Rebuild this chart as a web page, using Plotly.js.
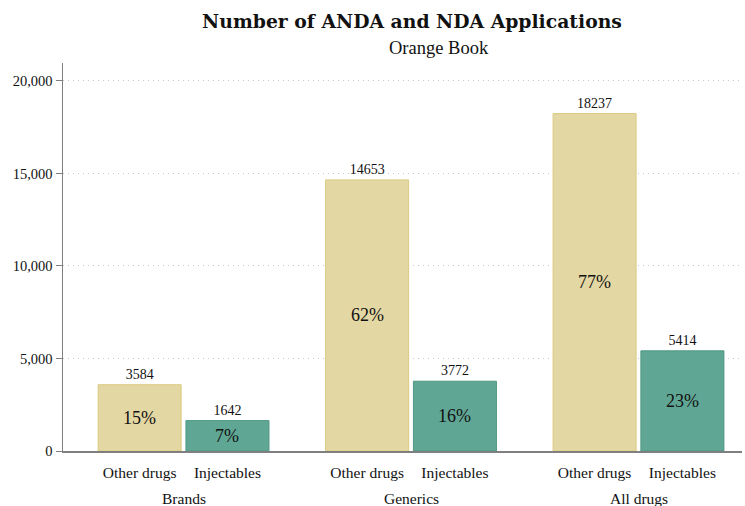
<!DOCTYPE html>
<html>
<head>
<meta charset="utf-8">
<script src="https://cdn.plot.ly/plotly-3.0.1.min.js"></script>
<style>html,body{margin:0;padding:0;background:#fff;}#chart{width:745px;height:506px;}</style>
</head>
<body>
<div id="chart"></div>
<script>
const groups = ["Brands", "Generics", "All drugs"];
const subLabels = ["Other drugs", "Injectables"];
const otherDrugs = [3584, 14653, 18237];
const injectables = [1642, 3772, 5414];
const otherPct = ["15%", "62%", "77%"];
const injectPct = ["7%", "16%", "23%"];
const yTicks = [0, 5000, 10000, 15000, 20000];

const FONT = "Liberation Serif, Times New Roman, serif";
const TFONT = "DejaVu Serif, serif";
const off = 0.193;
const bw = 0.365;
const gx = groups.map((g, i) => i);
const xOther = gx.map(v => v - off);
const xInj = gx.map(v => v + off);

const traces = [
  {
    type: "bar", x: xOther, y: otherDrugs, width: bw,
    marker: {color: "#e3d7a3", line: {color: "#dccb82", width: 1}},
    text: otherDrugs.map(String), textposition: "outside", cliponaxis: false,
    textfont: {family: FONT, size: 14, color: "#111"}, hoverinfo: "skip", showlegend: false
  },
  {
    type: "bar", x: xInj, y: injectables, width: bw,
    marker: {color: "#60a694", line: {color: "#4e9882", width: 1}},
    text: injectables.map(String), textposition: "outside", cliponaxis: false,
    textfont: {family: FONT, size: 14, color: "#111"}, hoverinfo: "skip", showlegend: false
  }
];

const annotations = [];
groups.forEach((g, i) => {
  annotations.push({x: xOther[i], y: otherDrugs[i] / 2, xref: "x", yref: "y", text: otherPct[i],
    showarrow: false, font: {family: FONT, size: 18, color: "#111"}});
  annotations.push({x: xInj[i], y: injectables[i] / 2, xref: "x", yref: "y", text: injectPct[i],
    showarrow: false, font: {family: FONT, size: 18, color: "#111"}});
  annotations.push({x: gx[i], y: 0, xref: "x", yref: "paper", yshift: -47, text: g,
    showarrow: false, yanchor: "middle", font: {family: FONT, size: 15.5, color: "#111"}});
});
annotations.push({x: 412 / 745, y: 1, xref: "paper", yref: "paper", yanchor: "middle", yshift: 15,
  text: "Orange Book", showarrow: false, font: {family: FONT, size: 18.5, color: "#111"}});

const tickvals = [], ticktext = [];
gx.forEach((v, i) => { tickvals.push(xOther[i], xInj[i]); ticktext.push(subLabels[0], subLabels[1]); });

const layout = {
  width: 745, height: 506,
  margin: {l: 63, r: 3, t: 63, b: 55},
  paper_bgcolor: "#fff", plot_bgcolor: "#fff",
  separators: ".,",
  font: {family: FONT, size: 14.5, color: "#111"},
  title: {text: "<b>Number of ANDA and NDA Applications</b>", x: 412 / 745, xanchor: "center",
    y: 1 - 21 / 506, yanchor: "middle", font: {family: TFONT, size: 18.8, color: "#111"}},
  bargap: 0,
  xaxis: {
    range: [-0.53, 2.455], tickvals: tickvals, ticktext: ticktext,
    ticks: "outside", ticklen: 7, tickcolor: "rgba(0,0,0,0)",
    tickfont: {family: FONT, size: 15.5, color: "#111"},
    showgrid: false, zeroline: false, showline: true, linecolor: "#7f7f7f", linewidth: 1.5, fixedrange: true
  },
  yaxis: {
    range: [0, 20970], tickvals: yTicks, tickformat: ",d",
    ticks: "outside", ticklen: 6, tickcolor: "#7f7f7f", tickwidth: 1,
    tickfont: {family: FONT, size: 14.5, color: "#111"},
    showgrid: true, gridcolor: "#c8c8c8", griddash: "1px,4px", gridwidth: 1,
    zeroline: false, showline: true, linecolor: "#7f7f7f", linewidth: 1.5, fixedrange: true
  },
  annotations: annotations
};

Plotly.newPlot("chart", traces, layout, {displayModeBar: false, staticPlot: true});
</script>
</body>
</html>
